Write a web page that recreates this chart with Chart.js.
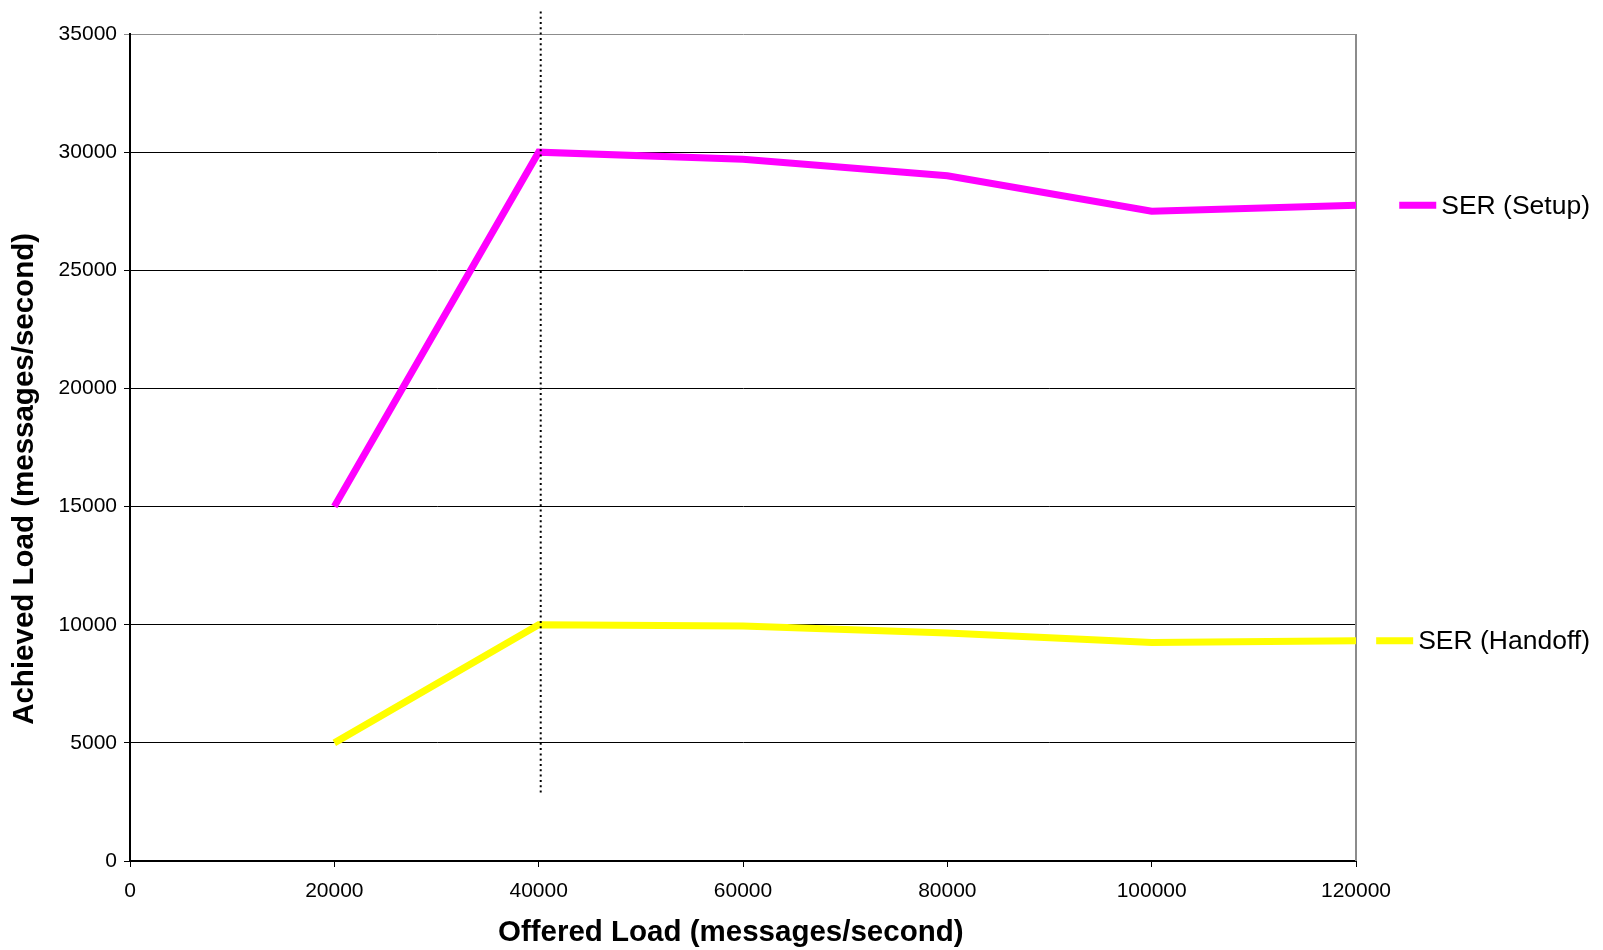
<!DOCTYPE html>
<html>
<head>
<meta charset="utf-8">
<script src="https://cdn.jsdelivr.net/npm/chart.js@4.4.1/dist/chart.umd.min.js"></script>
<style>
  html, body { margin: 0; padding: 0; background: #fff; }
  #wrap { width: 1603px; height: 950px; }
</style>
</head>
<body>
<div id="wrap"><canvas id="c" width="1603" height="950"></canvas></div>
<script>
// Offered load (x) and achieved load (y), messages/second
const offeredLoad = [20000, 40000, 60000, 80000, 100000, 120000];
const setupAchieved = [15000, 30000, 29700, 29000, 27500, 27750];
const handoffAchieved = [5000, 10000, 9950, 9650, 9250, 9320];

// Vertical marker at the saturation point
const markerX = 40200;
const markerYRange = [2900, 36100];

const xTicks = [0, 20000, 40000, 60000, 80000, 100000, 120000];
const yTicks = [0, 5000, 10000, 15000, 20000, 25000, 30000, 35000];

const seriesNames = ['SER (Setup)', 'SER (Handoff)'];
const seriesColors = ['#ff00ff', '#ffff00'];

const xTitle = 'Offered Load (messages/second)';
const yTitle = 'Achieved Load (messages/second)';

const FONT = "'Liberation Sans', Arial, sans-serif";

const toPoints = (xs, ys) => xs.map((x, i) => ({ x, y: ys[i] }));

// Legend entries sit beside the end of each series, right-aligned
const sideLegend = {
  id: 'sideLegend',
  afterDraw(chart) {
    const { ctx, scales: { y } } = chart;
    const rightEdge = 1590;
    ctx.save();
    ctx.font = '26.5px ' + FONT;
    ctx.textBaseline = 'middle';
    ctx.fillStyle = '#000';
    chart.data.datasets.forEach(ds => {
      if (!ds.legendLabel) return;
      const last = ds.data[ds.data.length - 1];
      const py = y.getPixelForValue(last.y);
      const w = ctx.measureText(ds.legendLabel).width;
      const tx = rightEdge - w;
      ctx.fillText(ds.legendLabel, tx, py + 1);
      ctx.strokeStyle = ds.borderColor;
      ctx.lineWidth = 7;
      ctx.beginPath();
      ctx.moveTo(tx - 42, py);
      ctx.lineTo(tx - 5, py);
      ctx.stroke();
    });
    ctx.restore();
  }
};

// Axis titles, placed relative to the plot area
const axisTitles = {
  id: 'axisTitles',
  afterDraw(chart) {
    const { ctx, chartArea: a } = chart;
    ctx.save();
    ctx.font = 'bold 29.5px ' + FONT;
    ctx.fillStyle = '#000';
    ctx.textAlign = 'center';
    ctx.textBaseline = 'middle';
    ctx.fillText(xTitle, a.left + (a.right - a.left) * 0.49, a.bottom + 72);
    ctx.translate(25, a.top + (a.bottom - a.top) * 0.538);
    ctx.rotate(-Math.PI / 2);
    ctx.fillText(yTitle, 0, 0);
    ctx.restore();
  }
};

// Grey right-hand frame of the plot area
const rightFrame = {
  id: 'rightFrame',
  beforeDatasetsDraw(chart) {
    const { ctx, chartArea: a } = chart;
    ctx.save();
    ctx.strokeStyle = '#8c8c8c';
    ctx.lineWidth = 2;
    ctx.beginPath();
    ctx.moveTo(a.right, a.top);
    ctx.lineTo(a.right, a.bottom);
    ctx.stroke();
    ctx.restore();
  }
};

new Chart(document.getElementById('c'), {
  type: 'line',
  data: {
    datasets: [
      {
        data: [{ x: markerX, y: markerYRange[0] }, { x: markerX, y: markerYRange[1] }],
        borderColor: '#000',
        borderWidth: 2,
        borderDash: [2, 3.3],
        pointRadius: 0,
        clip: false,
        tension: 0
      },
      {
        legendLabel: seriesNames[0],
        data: toPoints(offeredLoad, setupAchieved),
        borderColor: seriesColors[0],
        borderWidth: 7,
        pointRadius: 0,
        tension: 0,
        borderJoinStyle: 'miter'
      },
      {
        legendLabel: seriesNames[1],
        data: toPoints(offeredLoad, handoffAchieved),
        borderColor: seriesColors[1],
        borderWidth: 7,
        pointRadius: 0,
        tension: 0,
        borderJoinStyle: 'miter'
      }
    ]
  },
  options: {
    responsive: false,
    animation: false,
    layout: { padding: { top: 34, right: 247, left: 0, bottom: 0 } },
    plugins: { legend: { display: false }, tooltip: { enabled: false } },
    scales: {
      x: {
        type: 'linear',
        min: xTicks[0],
        max: xTicks[xTicks.length - 1],
        afterBuildTicks: s => { s.ticks = xTicks.map(v => ({ value: v })); },
        afterFit: s => { s.height = 89; },
        ticks: {
          color: '#000',
          font: { family: FONT, size: 21 },
          padding: 12,
          maxRotation: 0,
          callback: v => String(v)
        },
        grid: { drawOnChartArea: false, drawTicks: true, tickLength: 6, color: '#000', lineWidth: 1 },
        border: { color: '#000', width: 2 }
      },
      y: {
        type: 'linear',
        min: yTicks[0],
        max: yTicks[yTicks.length - 1],
        afterBuildTicks: s => { s.ticks = yTicks.map(v => ({ value: v })); },
        afterFit: s => { s.width = 130; },
        ticks: {
          color: '#000',
          font: { family: FONT, size: 21 },
          padding: 7,
          callback: v => String(v)
        },
        grid: {
          drawTicks: true,
          tickLength: 6,
          lineWidth: 1,
          color: c => (c.tick && c.tick.value === yTicks[yTicks.length - 1]) ? '#8c8c8c' : '#000'
        },
        border: { color: '#000', width: 2 }
      }
    }
  },
  plugins: [sideLegend, axisTitles, rightFrame]
});
</script>
</body>
</html>
